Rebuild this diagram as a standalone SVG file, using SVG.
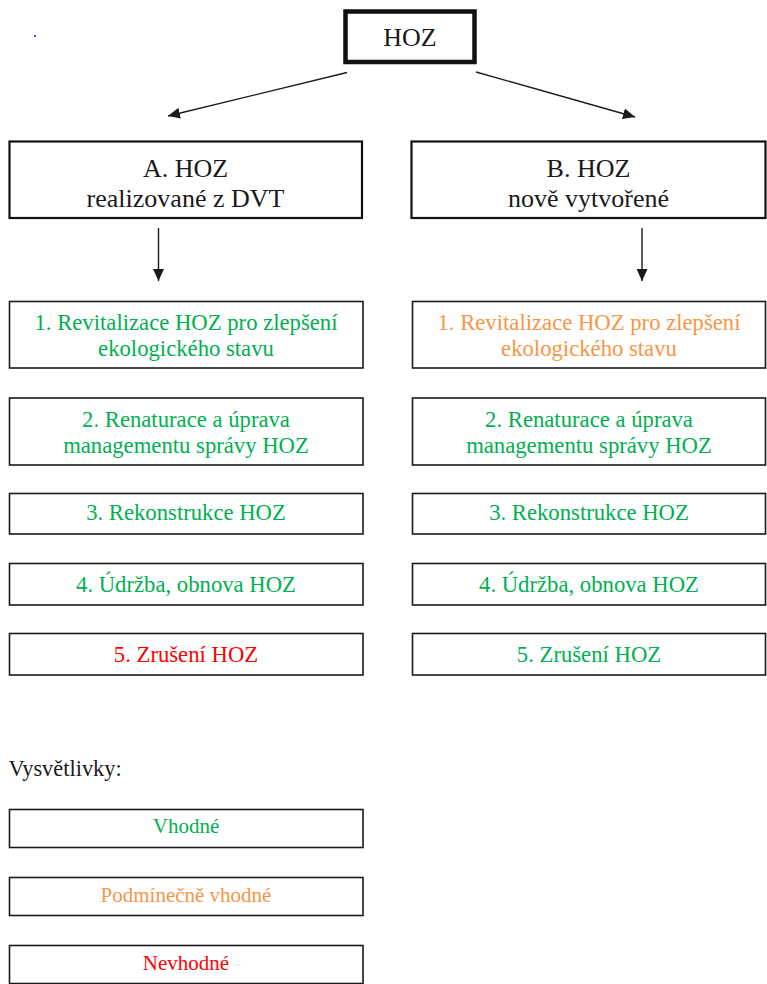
<svg xmlns="http://www.w3.org/2000/svg" width="767" height="984" viewBox="0 0 767 984">
<style>
  text { font-family: "Liberation Serif", "Times New Roman", serif; text-anchor: middle; }
  .box { fill: #ffffff; stroke: #1a1a1a; stroke-width: 1.6; }
  .hbox { fill: #ffffff; stroke: #111111; stroke-width: 2.2; }
  .top { fill: #ffffff; stroke: #111111; stroke-width: 4.5; }
  .big { font-size: 26px; fill: #1a1a1a; }
  .item { font-size: 22.7px; }
  .leg { font-size: 21px; }
  .g { fill: #00b050; }
  .o { fill: #f79646; }
  .r { fill: #ff0000; }
  .conn { stroke: #1a1a1a; stroke-width: 1.4; fill: none; marker-end: url(#ah); }
</style>
<defs>
  <marker id="ah" markerUnits="userSpaceOnUse" markerWidth="13" markerHeight="11" refX="12" refY="5.5" orient="auto">
    <path d="M0,0 L12,5.5 L0,11 Z" fill="#1a1a1a"/>
  </marker>
</defs>
<rect x="0" y="0" width="767" height="984" fill="#ffffff"/>
<rect x="34" y="35" width="2" height="2" fill="#4a4aff"/>

<g id="connectors">
  <line class="conn" x1="347" y1="72.5" x2="168" y2="116"/>
  <line class="conn" x1="476" y1="72" x2="635" y2="117"/>
  <line class="conn" x1="158.5" y1="228" x2="158.5" y2="281"/>
  <line class="conn" x1="642" y1="228" x2="642" y2="281"/>
</g>

<g id="node-hoz">
  <rect class="top" x="345.5" y="11.5" width="129" height="50.5"/>
  <text class="big" x="410" y="46">HOZ</text>
</g>

<g id="node-a">
  <rect class="hbox" x="9.5" y="141.5" width="352.5" height="76.5"/>
  <text class="big" x="185.5" y="176.5">A. HOZ</text>
  <text class="big" x="185.5" y="206.5">realizované z DVT</text>
</g>
<g id="node-b">
  <rect class="hbox" x="411.5" y="141.5" width="354" height="76.5"/>
  <text class="big" x="588.5" y="176.5">B. HOZ</text>
  <text class="big" x="588.5" y="206.5">nově vytvořené</text>
</g>

<g id="a1">
  <rect class="box" x="9.5" y="301.5" width="353.5" height="66.5"/>
  <text class="item g" x="186" y="329.7">1. Revitalizace HOZ pro zlepšení</text>
  <text class="item g" x="186" y="355.7">ekologického stavu</text>
</g>
<g id="a2">
  <rect class="box" x="9.5" y="398" width="353.5" height="67"/>
  <text class="item g" x="186" y="426.7">2. Renaturace a úprava</text>
  <text class="item g" x="186" y="452.7">managementu správy HOZ</text>
</g>
<g id="a3">
  <rect class="box" x="9.5" y="493.5" width="353.5" height="40.5"/>
  <text class="item g" x="186" y="520">3. Rekonstrukce HOZ</text>
</g>
<g id="a4">
  <rect class="box" x="9.5" y="563.5" width="353.5" height="41.5"/>
  <text class="item g" x="186" y="591.7">4. Údržba, obnova HOZ</text>
</g>
<g id="a5">
  <rect class="box" x="9.5" y="633.5" width="353.5" height="41.5"/>
  <text class="item r" x="186" y="661.7">5. Zrušení HOZ</text>
</g>

<g id="b1">
  <rect class="box" x="412.5" y="301.5" width="353" height="66.5"/>
  <text class="item o" x="589" y="329.7">1. Revitalizace HOZ pro zlepšení</text>
  <text class="item o" x="589" y="355.7">ekologického stavu</text>
</g>
<g id="b2">
  <rect class="box" x="412.5" y="398" width="353" height="67"/>
  <text class="item g" x="589" y="426.7">2. Renaturace a úprava</text>
  <text class="item g" x="589" y="452.7">managementu správy HOZ</text>
</g>
<g id="b3">
  <rect class="box" x="412.5" y="493.5" width="353" height="40.5"/>
  <text class="item g" x="589" y="520">3. Rekonstrukce HOZ</text>
</g>
<g id="b4">
  <rect class="box" x="412.5" y="563.5" width="353" height="41.5"/>
  <text class="item g" x="589" y="591.7">4. Údržba, obnova HOZ</text>
</g>
<g id="b5">
  <rect class="box" x="412.5" y="633.5" width="353" height="41.5"/>
  <text class="item g" x="589" y="661.7">5. Zrušení HOZ</text>
</g>

<g id="legend">
  <text x="8.5" y="776" style="text-anchor:start;font-size:22.4px;fill:#1a1a1a">Vysvětlivky:</text>
  <g id="leg-vhodne">
    <rect class="box" x="9.5" y="809.5" width="353.5" height="38"/>
    <text class="leg g" x="186" y="833.3">Vhodné</text>
  </g>
  <g id="leg-podminecne">
    <rect class="box" x="9.5" y="877.5" width="353.5" height="38"/>
    <text class="leg o" x="186" y="901.7">Podmínečně vhodné</text>
  </g>
  <g id="leg-nevhodne">
    <rect class="box" x="9.5" y="945.5" width="353.5" height="38"/>
    <text class="leg r" x="186" y="970">Nevhodné</text>
  </g>
</g>
</svg>
